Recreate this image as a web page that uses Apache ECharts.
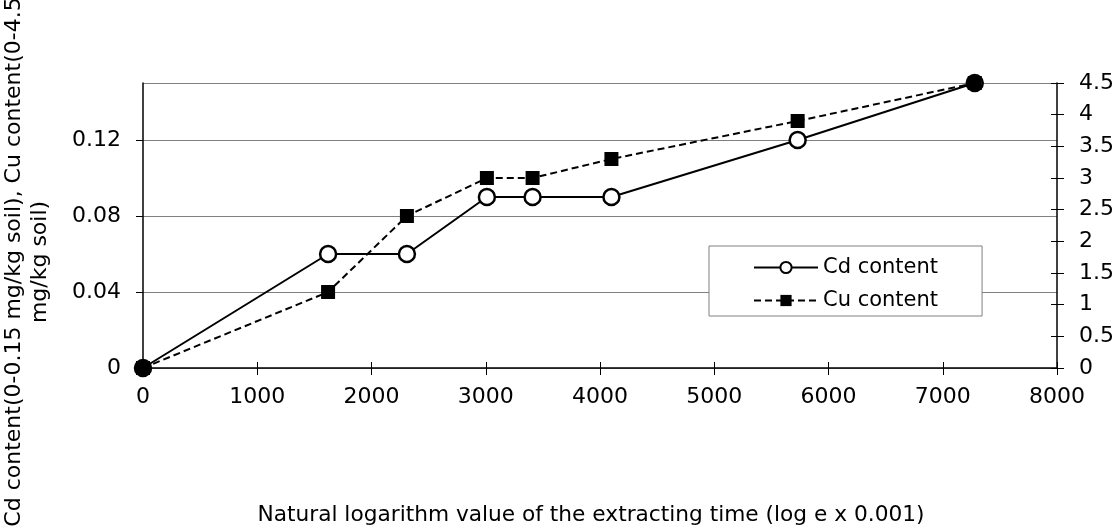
<!DOCTYPE html>
<html>
<head>
<meta charset="utf-8">
<script src="https://cdn.jsdelivr.net/npm/echarts@6/dist/echarts.min.js"></script>
<style>
html,body{margin:0;padding:0;background:#fff;}
#chart{width:1120px;height:531px;}
</style>
</head>
<body>
<div id="chart"></div>
<script>
// Data
var xValues = [0, 1620, 2310, 3010, 3410, 4100, 5730, 7280];
var cdValues = [0, 0.06, 0.06, 0.09, 0.09, 0.09, 0.12, 0.15];
var cuValues = [0, 1.2, 2.4, 3.0, 3.0, 3.3, 3.9, 4.5];
var seriesNames = ['Cd content', 'Cu content'];
var xAxisTitle = 'Natural logarithm value of the extracting time (log e x 0.001)';
var yAxisTitle = 'Cd content(0-0.15 mg/kg soil), Cu content(0-4.5\nmg/kg soil)';

var FONT = '"DejaVu Sans", sans-serif';
var chart = echarts.init(document.getElementById('chart'), null, {renderer: 'canvas'});

function pairs(xs, ys) { return xs.map(function (x, i) { return [x, ys[i]]; }); }

var gridLeft = 143, gridRight = 63, gridTop = 83, gridBottom = 163;
var plotW = 1120 - gridLeft - gridRight;
var plotH = 531 - gridTop - gridBottom;

chart.setOption({
  animation: false,
  backgroundColor: '#ffffff',
  textStyle: {fontFamily: FONT, color: '#000'},
  grid: {left: gridLeft, right: gridRight, top: gridTop, bottom: gridBottom, containLabel: false},
  legend: {
    orient: 'vertical',
    left: 709, top: 246,
    padding: [11, 44, 5, 44],
    itemGap: 12,
    itemWidth: 64, itemHeight: 14,
    itemTextGap: 6,
    backgroundColor: '#fff',
    borderColor: '#808080', borderWidth: 1,
    textStyle: {fontFamily: FONT, fontSize: 21, lineHeight: 21, color: '#000'},
    data: seriesNames
  },
  xAxis: [{
    type: 'value', min: 0, max: 8000, interval: 1000,
    position: 'bottom',
    name: xAxisTitle, nameLocation: 'middle', nameGap: 136,
    nameTextStyle: {fontFamily: FONT, fontSize: 21.7, color: '#000', padding: [0, 18, 0, 0]},
    axisLine: {show: true, onZero: false, lineStyle: {color: '#000', width: 1.5}},
    axisTick: {show: true, inside: false, length: 7, lineStyle: {color: '#000'}},
    axisLabel: {fontFamily: FONT, fontSize: 22, color: '#000', margin: 18,
      formatter: function (v) { return String(v); }},
    splitLine: {show: false}
  }, {
    type: 'value', min: 0, max: 8000, interval: 1000,
    position: 'top', offset: -plotH,
    axisLine: {show: false},
    axisTick: {show: true, inside: false, length: 6, lineStyle: {color: '#000'}},
    axisLabel: {show: false},
    splitLine: {show: false}
  }],
  yAxis: [{
    type: 'value', min: 0, max: 0.15, interval: 0.04,
    position: 'left',
    axisLine: {show: true, onZero: false, lineStyle: {color: '#000', width: 1.5}},
    axisTick: {show: true, inside: false, length: 7, lineStyle: {color: '#000'}},
    axisLabel: {fontFamily: FONT, fontSize: 22, color: '#000', margin: 22, showMaxLabel: false,
      formatter: function (v) { return String(v); }},
    splitLine: {show: true, lineStyle: {color: '#808080', width: 1}}
  }, {
    type: 'value', min: 0, max: 4.5, interval: 0.5,
    position: 'right',
    axisLine: {show: true, onZero: false, lineStyle: {color: '#000', width: 1.5}},
    axisTick: {show: true, inside: false, length: 7, lineStyle: {color: '#000'}},
    axisLabel: {fontFamily: FONT, fontSize: 22, color: '#000', margin: 22,
      formatter: function (v) { return String(v); }},
    splitLine: {show: false}
  }, {
    type: 'value', min: 0, max: 4.5, interval: 0.5,
    position: 'left', offset: -plotW,
    axisLine: {show: false},
    axisTick: {show: true, inside: false, length: 6, lineStyle: {color: '#000'}},
    axisLabel: {show: false},
    splitLine: {show: false}
  }],
  graphic: [{
    type: 'text',
    x: 27, y: 262,
    rotation: Math.PI / 2,
    style: {
      text: yAxisTitle,
      font: '22px ' + FONT,
      fill: '#000',
      align: 'center',
      verticalAlign: 'middle',
      lineHeight: 26
    }
  }],
  series: [{
    name: seriesNames[0],
    type: 'line',
    xAxisIndex: 0, yAxisIndex: 0,
    data: pairs(xValues, cdValues),
    symbol: 'circle', symbolSize: 16,
    itemStyle: {color: '#fff', borderColor: '#000', borderWidth: 2.5},
    lineStyle: {color: '#000', width: 2, type: 'solid'},
    z: 2
  }, {
    name: seriesNames[1],
    type: 'line',
    xAxisIndex: 0, yAxisIndex: 1,
    data: pairs(xValues, cuValues),
    symbol: 'rect', symbolSize: 14,
    itemStyle: {color: '#000', borderColor: '#000', borderWidth: 0},
    lineStyle: {color: '#000', width: 2, type: [7, 4]},
    z: 3
  }]
});
</script>
</body>
</html>
